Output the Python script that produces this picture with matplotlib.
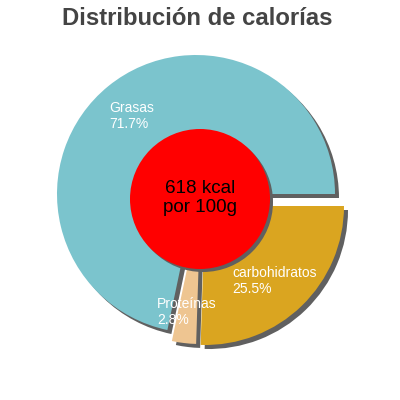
import matplotlib
matplotlib.use("Agg")
import matplotlib.pyplot as plt
from matplotlib.patches import Circle

# ---- data ----
categories = ["Grasas", "Proteínas", "carbohidratos"]
percentages = [71.7, 2.8, 25.5]
colors = ["#7bc4cd", "#eec591", "#daa520"]
energy_label = "618 kcal\npor 100g"
title = "Distribución de calorías"

plt.rcParams["font.family"] = ["Liberation Sans", "DejaVu Sans"]

W = H = 400
fig = plt.figure(figsize=(4, 4), dpi=100)
ax = fig.add_axes([0, 0, 1, 1])

# pie geometry in pixels (image coords)
cx, cy, R = 196, 194, 139
shadow_off = 4 / R
# per-slice displacement (pixels, right / down)
offsets_px = [(0, 0), (4.5, 11), (9, 12)]

# shadow
sh_wedges, _ = ax.pie(percentages, colors=["#606060"] * 3, startangle=0,
                      counterclock=True, radius=1,
                      wedgeprops=dict(linewidth=0))
# main pie
wedges, _ = ax.pie(percentages, colors=colors, startangle=0,
                   counterclock=True, radius=1,
                   wedgeprops=dict(linewidth=0))
for sw, w, (ox, oy) in zip(sh_wedges, wedges, offsets_px):
    w.set_center((ox / R, -oy / R))
    sw.set_center((ox / R + shadow_off, -oy / R - shadow_off))

# central circle
ccx, ccy, cr = (200 - cx) / R, -(199 - cy) / R, 70 / R
ax.add_patch(Circle((ccx + 3 / R, ccy - 3 / R), cr, color="#606060", lw=0, zorder=5))
ax.add_patch(Circle((ccx, ccy), cr, color="#ff0000", lw=0, zorder=6))
ax.text(ccx, ccy + 1 / R, energy_label, ha="center", va="center", fontsize=13.6,
        color="black", zorder=7, linespacing=1.22)

ax.set_xlim(-cx / R, (W - cx) / R)
ax.set_ylim(-(H - cy) / R, cy / R)
ax.set_aspect("auto")
ax.axis("off")

# labels (pixel positions of top-left of text)
label_pos = [(109, 101), (157, 297), (232, 266)]
for name, pct, (lx, ly) in zip(categories, percentages, label_pos):
    fig.text(lx / W, 1 - ly / H, f"{name}\n{pct}%", ha="left", va="top",
             fontsize=10, color="white", zorder=10)

fig.text(197.5 / W, 1 - 7 / H, title, ha="center", va="top", fontsize=17.2,
         fontweight="bold", color="#444444")

fig.savefig("out.png", dpi=100)
